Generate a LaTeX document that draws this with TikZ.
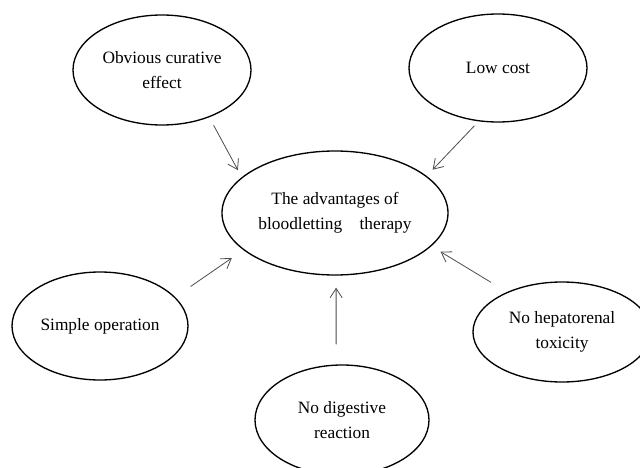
\documentclass[tikz,border=0pt]{standalone}
\usepackage{fontspec}
\setmainfont{Liberation Serif}
\usetikzlibrary{arrows.meta,shapes.geometric}

\begin{document}
\begin{tikzpicture}[x=0.75pt, y=-0.75pt,
  bubble/.style={draw=black, line width=1pt, ellipse, inner sep=0pt, align=center,
    font=\fontsize{13pt}{19pt}\selectfont},
  feed/.style={draw=black!70, line width=0.6pt, -{Straight Barb[length=7pt, width=9pt]}}]

\useasboundingbox (0,0) rectangle (640,468);
\clip (0,0) rectangle (640,468);

\node [bubble, minimum width=169.5pt, minimum height=93pt] (adv) at (335,213) {The advantages of\\bloodletting\quad therapy};
\node [bubble, minimum width=133.5pt, minimum height=82.5pt] (cure) at (162,70) {Obvious curative\\effect};
\node [bubble, minimum width=133.5pt, minimum height=81pt] (low) at (498,68) {Low cost};
\node [bubble, minimum width=132pt, minimum height=81pt] (simple) at (100,326) {Simple operation};
\node [bubble, minimum width=133.5pt, minimum height=75pt] (hep) at (562,332) {No hepatorenal\\toxicity};
\node [bubble, minimum width=130.5pt, minimum height=82.5pt] (dig) at (342,420) {No digestive\\reaction};

\draw[feed, shorten <=6.75pt, shorten >=6pt] (cure.-45) -- (adv.159);
\draw[feed, shorten <=4.5pt, shorten >=6.5pt] (low.-110) -- (adv.22);
\draw[feed, shorten <=14pt, shorten >=10.5pt] (simple.21) -- (adv.202);
\draw[feed, shorten <=14pt, shorten >=8pt] (hep.144) -- (adv.-19);
\draw[feed, shorten <=15pt, shorten >=9pt] (dig.96) -- (adv.-89);

\end{tikzpicture}
\end{document}
